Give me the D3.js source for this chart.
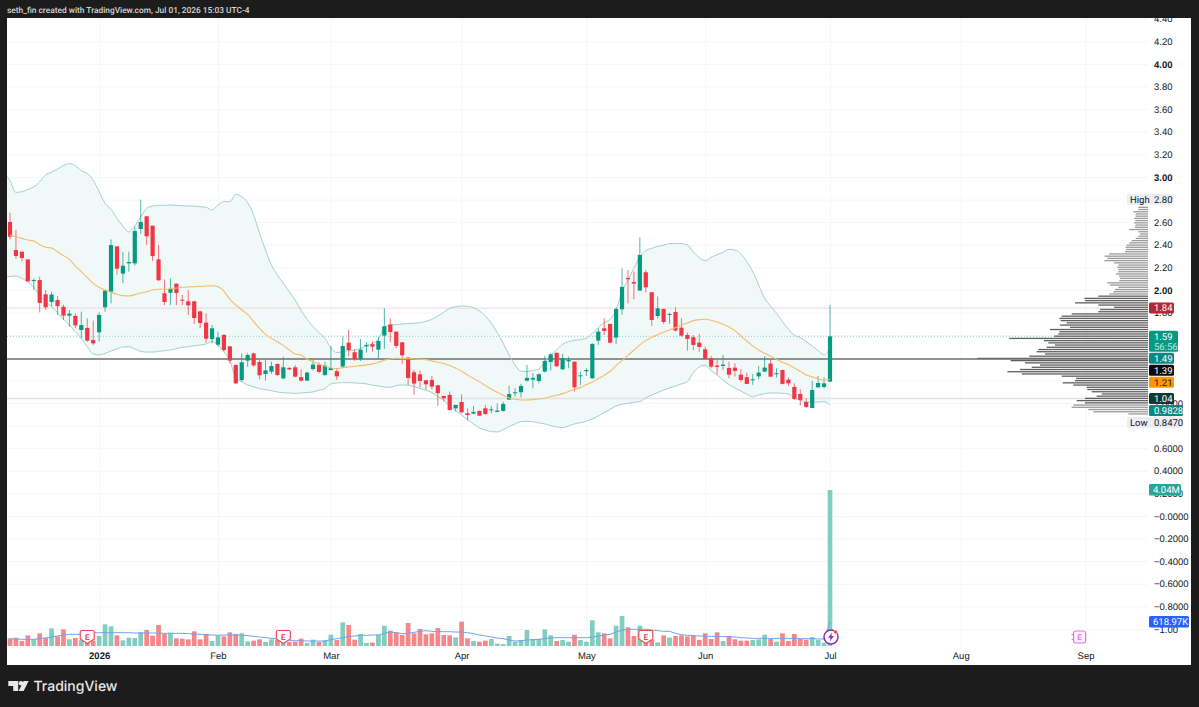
<!DOCTYPE html>
<html>
<head>
<meta charset="utf-8">
<title>Daily candles with Bollinger Bands, volume and volume profile</title>
<script src="https://cdn.jsdelivr.net/npm/d3@7/dist/d3.min.js"></script>
<style>
  html, body { margin: 0; padding: 0; background: #1c1c1c; }
  svg { display: block; font-family: Roboto, "Liberation Sans", sans-serif; }
  text { text-rendering: geometricPrecision; }
</style>
</head>
<body>
<svg id="chart" width="1199" height="707"></svg>
<script>
// Daily OHLC, one entry per session
const opens = [
  2.602,2.354,2.339,2.271,2.080,2.088,1.962,1.894,1.911,1.852,1.773,1.770,1.646,1.664,1.557,1.625,1.847,1.985,2.386,2.145,
  2.236,2.236,2.540,2.652,2.569,2.271,1.971,1.976,2.056,1.914,1.900,1.900,1.811,1.711,1.566,1.516,1.602,1.501,1.336,1.203,
  1.375,1.439,1.363,1.257,1.277,1.345,1.218,1.310,1.316,1.228,1.198,1.301,1.337,1.248,1.292,1.281,1.322,1.534,1.449,1.387,
  1.502,1.520,1.472,1.596,1.694,1.632,1.537,1.402,1.272,1.254,1.201,1.204,1.157,1.062,1.071,0.953,1.009,0.909,0.906,0.930,
  0.953,0.936,0.921,0.930,1.030,1.086,1.095,1.198,1.207,1.195,1.278,1.363,1.443,1.298,1.369,1.366,1.236,1.281,1.219,1.552,
  1.661,1.700,1.579,1.829,2.107,2.071,1.995,2.157,1.980,1.770,1.832,1.779,1.806,1.667,1.602,1.582,1.534,1.475,1.396,1.331,
  1.328,1.310,1.313,1.251,1.228,1.201,1.236,1.278,1.349,1.254,1.292,1.207,1.142,1.080,1.009,0.956,1.139,1.142,1.19];
const highs = [
  2.684,2.531,2.339,2.271,2.103,2.118,2.000,1.985,1.947,1.867,1.823,1.793,1.808,1.749,1.729,1.802,2.000,2.448,2.389,2.339,
  2.339,2.561,2.800,2.655,2.569,2.398,2.094,2.103,2.059,1.956,2.000,1.900,1.814,1.793,1.690,1.631,1.611,1.504,1.342,1.439,
  1.439,1.445,1.380,1.380,1.366,1.351,1.410,1.321,1.336,1.298,1.278,1.381,1.360,1.366,1.505,1.307,1.587,1.647,1.478,1.564,
  1.540,1.543,1.587,1.838,1.750,1.632,1.540,1.405,1.292,1.287,1.204,1.239,1.160,1.065,1.101,0.983,1.077,0.953,0.974,0.933,
  0.983,0.974,0.997,1.012,1.151,1.130,1.169,1.337,1.263,1.263,1.416,1.440,1.449,1.434,1.411,1.366,1.278,1.307,1.528,1.661,
  1.750,1.700,1.847,2.192,2.178,2.163,2.467,2.178,1.980,1.942,1.835,1.800,1.847,1.750,1.623,1.602,1.611,1.499,1.416,1.381,
  1.425,1.366,1.352,1.301,1.269,1.257,1.328,1.416,1.381,1.307,1.295,1.225,1.174,1.121,1.042,1.198,1.239,1.228,1.868];
const lows = [
  2.448,2.274,2.251,2.071,2.000,1.802,1.823,1.852,1.779,1.734,1.675,1.661,1.572,1.543,1.513,1.543,1.808,1.882,2.133,2.059,
  2.162,2.215,2.496,2.398,2.257,2.080,1.867,1.867,1.867,1.867,1.779,1.699,1.661,1.534,1.528,1.498,1.454,1.351,1.168,1.189,
  1.321,1.321,1.209,1.198,1.257,1.239,1.209,1.292,1.227,1.189,1.195,1.287,1.263,1.239,1.287,1.204,1.316,1.416,1.372,1.372,
  1.446,1.455,1.390,1.478,1.537,1.484,1.346,1.160,1.071,1.139,1.121,1.121,0.974,1.012,0.933,0.924,0.909,0.847,0.900,0.885,
  0.894,0.909,0.918,0.924,1.027,1.056,1.051,1.189,1.130,1.174,1.272,1.287,1.322,1.292,1.307,1.101,1.160,1.239,1.213,1.514,
  1.602,1.526,1.520,1.779,1.882,1.918,1.992,1.980,1.682,1.747,1.700,1.700,1.632,1.587,1.464,1.469,1.455,1.387,1.307,1.254,
  1.292,1.219,1.233,1.189,1.166,1.160,1.210,1.275,1.231,1.225,1.163,1.151,1.027,0.977,0.956,0.953,1.136,1.130,1.183];
const closes = [
  2.472,2.301,2.283,2.077,2.088,1.885,1.847,1.959,1.858,1.773,1.791,1.687,1.690,1.552,1.528,1.779,1.994,2.398,2.189,2.215,
  2.248,2.522,2.602,2.475,2.301,2.086,1.894,2.009,1.973,1.906,1.864,1.752,1.708,1.569,1.661,1.581,1.469,1.375,1.174,1.360,
  1.425,1.333,1.245,1.289,1.327,1.248,1.316,1.298,1.233,1.198,1.269,1.340,1.275,1.331,1.310,1.236,1.505,1.469,1.387,1.472,
  1.514,1.499,1.549,1.679,1.629,1.505,1.422,1.222,1.172,1.195,1.166,1.145,1.086,1.042,0.938,0.983,0.918,0.894,0.921,0.888,
  0.903,0.944,0.933,0.992,1.080,1.095,1.151,1.222,1.222,1.254,1.372,1.431,1.325,1.396,1.381,1.139,1.245,1.292,1.523,1.632,
  1.638,1.534,1.832,2.027,2.095,2.057,2.310,2.024,1.735,1.838,1.717,1.788,1.641,1.596,1.567,1.514,1.496,1.393,1.322,1.319,
  1.340,1.251,1.284,1.204,1.169,1.210,1.269,1.313,1.233,1.263,1.169,1.174,1.036,1.027,0.965,1.115,1.177,1.174,1.59];

// Session volume, thousands of shares
const volumes = [
  198,216,129,276,181,328,216,457,250,431,173,207,155,198,138,259,561,509,276,147,
  216,207,362,414,268,544,319,345,198,190,173,380,173,311,129,268,250,354,311,328,
  121,138,173,104,173,155,112,104,112,190,78,164,104,147,293,155,613,544,164,311,
  78,86,293,526,397,354,285,595,328,440,302,328,466,285,276,224,630,198,129,112,
  138,181,60,52,259,112,155,414,181,181,431,276,129,155,112,293,155,112,665,354,
  328,198,526,777,483,259,526,371,155,95,276,216,259,276,250,276,155,328,181,354,
  129,259,173,138,138,155,173,293,181,112,328,129,311,181,164,233,155,86,4040];
const volumeMA = [
  181,181,173,173,173,190,207,233,259,285,302,302,302,319,337,345,345,345,345,345,
  345,337,337,337,337,337,328,328,328,328,319,311,302,293,285,276,285,285,285,285,
  268,250,233,216,198,181,155,138,138,138,129,129,129,129,164,190,216,242,259,276,
  276,285,285,328,362,345,319,328,354,380,397,380,371,371,371,362,362,345,319,285,
  259,233,207,190,155,129,138,155,164,173,190,207,216,216,216,216,216,216,233,259,
  285,302,362,406,431,431,431,431,414,397,380,380,328,293,276,268,259,259,250,242,
  242,242,233,216,207,198,198,198,198,198,198,198,198,190,190,190,181,181,618.97];

// Bollinger Bands, first value belongs to the session before the visible range
const bandStart = -1;
const bbUpper = [
  3.030,2.968,2.864,2.870,2.891,2.912,2.959,3.018,3.044,3.071,3.103,3.118,3.100,3.056,3.032,2.973,2.870,2.767,2.714,2.634,
  2.566,2.513,2.566,2.649,2.723,2.743,2.749,2.749,2.752,2.749,2.746,2.743,2.743,2.737,2.732,2.708,2.752,2.782,2.782,2.847,
  2.826,2.773,2.664,2.501,2.354,2.221,2.133,2.059,1.985,1.911,1.818,1.741,1.676,1.623,1.573,1.490,1.446,1.455,1.464,1.467,
  1.484,1.505,1.529,1.564,1.670,1.691,1.694,1.700,1.703,1.706,1.711,1.723,1.741,1.770,1.803,1.838,1.853,1.859,1.856,1.844,
  1.815,1.770,1.706,1.623,1.529,1.425,1.337,1.281,1.278,1.287,1.301,1.366,1.425,1.469,1.520,1.543,1.555,1.561,1.573,1.617,
  1.670,1.711,1.741,1.823,1.986,2.089,2.192,2.295,2.349,2.369,2.387,2.396,2.411,2.411,2.411,2.399,2.337,2.287,2.260,2.290,
  2.313,2.334,2.360,2.354,2.319,2.251,2.163,2.045,1.927,1.859,1.794,1.720,1.655,1.599,1.579,1.543,1.505,1.464,1.425,1.49];
const bbLower = [
  2.118,2.118,2.124,2.103,2.071,2.024,1.950,1.897,1.852,1.799,1.740,1.690,1.631,1.572,1.498,1.434,1.425,1.439,1.460,1.478,
  1.496,1.498,1.478,1.457,1.451,1.451,1.457,1.463,1.469,1.481,1.493,1.498,1.507,1.513,1.522,1.543,1.513,1.454,1.375,1.218,
  1.189,1.159,1.144,1.127,1.118,1.109,1.097,1.091,1.088,1.085,1.089,1.092,1.098,1.113,1.127,1.169,1.177,1.180,1.180,1.177,
  1.174,1.169,1.157,1.151,1.142,1.139,1.154,1.160,1.157,1.145,1.130,1.113,1.092,1.056,1.024,0.974,0.930,0.894,0.850,0.815,
  0.779,0.761,0.747,0.744,0.764,0.791,0.815,0.835,0.838,0.835,0.823,0.815,0.800,0.788,0.782,0.797,0.815,0.826,0.838,0.859,
  0.885,0.915,0.944,0.974,0.989,0.997,1.006,1.012,1.045,1.071,1.092,1.115,1.133,1.151,1.169,1.189,1.269,1.319,1.334,1.284,
  1.248,1.204,1.163,1.133,1.107,1.077,1.056,1.071,1.083,1.089,1.089,1.086,1.080,1.042,1.024,1.009,1.006,1.009,1.012,0.9828];
const bbBasis = [
  2.500,2.487,2.472,2.457,2.442,2.434,2.401,2.378,2.372,2.339,2.304,2.271,2.212,2.162,2.109,2.059,2.024,2.000,1.979,1.962,
  1.950,1.947,1.959,1.973,1.985,2.000,2.006,2.006,2.012,2.018,2.024,2.027,2.029,2.032,2.035,2.038,2.029,1.991,1.917,1.867,
  1.823,1.785,1.720,1.661,1.608,1.572,1.543,1.510,1.469,1.434,1.425,1.387,1.366,1.343,1.328,1.310,1.304,1.313,1.319,1.325,
  1.331,1.337,1.346,1.360,1.378,1.390,1.396,1.393,1.393,1.390,1.387,1.384,1.372,1.360,1.349,1.331,1.307,1.281,1.248,1.216,
  1.189,1.154,1.124,1.095,1.068,1.045,1.033,1.027,1.027,1.030,1.036,1.042,1.056,1.068,1.083,1.101,1.121,1.136,1.163,1.186,
  1.216,1.245,1.281,1.331,1.375,1.422,1.467,1.514,1.552,1.582,1.605,1.626,1.646,1.667,1.691,1.708,1.729,1.738,1.741,1.732,
  1.717,1.697,1.673,1.641,1.593,1.549,1.505,1.469,1.440,1.413,1.387,1.360,1.340,1.310,1.281,1.248,1.231,1.213,1.201,1.21];

// Volume profile rows, top to bottom, in arbitrary share units
const profileTop = 2.732;
const profileBottom = 0.903;
const profileVolumes = [
  29,29,44,37,37,41,38,42,38,39,56,29,24,29,37,49,56,64,67,66,69,116,130,122,131,102,89,92,89,89,96,87,84,86,
  122,114,89,99,104,116,149,191,189,219,149,102,144,149,229,259,266,262,244,264,234,294,266,269,282,416,312,299,279,304,
  329,334,309,356,512,412,369,324,349,384,422,379,259,216,219,256,224,184,182,169,139,154,189,214,189,224,229,179,164,59];

// Price axis; levels whose label sits fully under a price tag carry no text of their own
const priceTicks = [4.4,4.2,4,3.8,3.6,3.4,3.2,3,2.8,2.6,2.4,2.2,2,1.8,1.6,1.4,1.2,1,0.8,0.6,0.4,0.2,0,-0.2,-0.4,-0.6,-0.8,-1];
const priceTickLabels = ["4.40","4.20","4.00","3.80","3.60","3.40","3.20","3.00","","2.60","2.40","2.20","2.00","1.80","","","","1.0000","","0.6000","0.4000","0.2000","−0.0000","−0.2000","−0.4000","−0.6000","−0.8000","−1.00"];
const boldPriceTicks = [4, 3, 2];

// Session index of each month start on the time axis
const monthIndexes = [15, 35, 54, 76, 97, 117, 138, 160, 181];
const monthLabels = ["2026", "Feb", "Mar", "Apr", "May", "Jun", "Jul", "Aug", "Sep"];

// Earnings sessions and the next scheduled report
const earningsIndexes = [13, 46, 107];
const nextEarningsIndex = 180;
const splitIndex = 138;

// Horizontal price levels
const resistanceLevel = 1.84;
const lastPrice = 1.59;
const pivotLevel = 1.39;
const supportLevel = 1.04;
const lowPrice = 0.847;
const highPrice = 2.80;

const countdown = "56:56";
const creditLine = "seth_fin created with TradingView.com, Jul 01, 2026 15:03 UTC-4";

const GREEN = "#089981", RED = "#f23645";

const svg = d3.select("#chart");
const pane = { left: 7, right: 1191, top: 18, bottom: 665, plotRight: 1148 };

const x = d3.scaleLinear().domain([0, 138]).range([10, 830]);
const y = d3.scaleLinear().domain([0, 4]).range([516, 64]);
const yVol = d3.scaleLinear().domain([0, 4040]).range([646, 490]);
const profileWidth = d3.scaleLinear().domain([0, 534]).range([0, 178]);

svg.append("text").attr("x", 7).attr("y", 13)
  .attr("fill", "#d6d6d6").attr("font-size", 8.35).attr("font-weight", 500).text(creditLine);

svg.append("rect").attr("x", pane.left).attr("y", pane.top)
  .attr("width", pane.right - pane.left).attr("height", pane.bottom - pane.top).attr("fill", "#fff");

const defs = svg.append("defs");
defs.append("clipPath").attr("id", "plot-clip").append("rect")
  .attr("x", pane.left).attr("y", pane.top)
  .attr("width", pane.plotRight - pane.left).attr("height", pane.bottom - pane.top);

// Vertical month grid and time labels
const xAxis = d3.axisBottom(x).tickValues(monthIndexes)
  .tickFormat((d, i) => monthLabels[i])
  .tickSize(-(pane.bottom - pane.top - 16)).tickPadding(3);
const gx = svg.append("g").attr("transform", `translate(0,${pane.bottom - 16})`).call(xAxis);
gx.select(".domain").remove();
gx.selectAll("line").attr("stroke", "#f5f6f9");
gx.selectAll("text").attr("fill", "#131722").attr("font-size", 9.5)
  .attr("font-weight", (d, i) => i === 0 ? 600 : 400);

// Horizontal price grid and price labels
const yAxis = d3.axisRight(y).tickValues(priceTicks)
  .tickFormat((d, i) => priceTickLabels[i])
  .tickSize(-(pane.plotRight - pane.left)).tickPadding(6);
const gy = svg.append("g").attr("transform", `translate(${pane.plotRight},0)`).call(yAxis);
gy.select(".domain").remove();
gy.selectAll("line").attr("stroke", "#f5f6f9");
gy.selectAll("text").attr("fill", "#131722").attr("font-size", 9.5)
  .attr("font-weight", d => boldPriceTicks.includes(d) ? 700 : 400);

const plot = svg.append("g").attr("clip-path", "url(#plot-clip)");

// Bollinger Bands
const bandRows = bbUpper.map((u, i) => ({ i: i + bandStart, u, l: bbLower[i], m: bbBasis[i] }));
plot.append("path").datum(bandRows)
  .attr("fill", "#eef8f6").attr("fill-opacity", 0.9)
  .attr("d", d3.area().curve(d3.curveMonotoneX).x(d => x(d.i)).y0(d => y(d.l)).y1(d => y(d.u)));

// Price levels behind the candles
plot.append("line").attr("x1", pane.left).attr("x2", pane.plotRight)
  .attr("y1", y(resistanceLevel)).attr("y2", y(resistanceLevel))
  .attr("stroke", "#f5d4d6").attr("stroke-width", 1);
plot.append("line").attr("x1", pane.left).attr("x2", pane.plotRight)
  .attr("y1", y(lastPrice)).attr("y2", y(lastPrice))
  .attr("stroke", "#8ccfc3").attr("stroke-width", 1).attr("stroke-dasharray", "1 2");
plot.append("line").attr("x1", pane.left).attr("x2", pane.plotRight)
  .attr("y1", y(supportLevel)).attr("y2", y(supportLevel))
  .attr("stroke", "#e2e2e2").attr("stroke-width", 1.6);

// Volume bars
const barWidth = 4.7;
plot.selectAll("rect.vol").data(volumes).join("rect").attr("class", "vol")
  .attr("x", (d, i) => x(i) - barWidth / 2).attr("width", barWidth)
  .attr("y", d => yVol(d)).attr("height", d => yVol(0) - yVol(d))
  .attr("fill", (d, i) => closes[i] >= opens[i] ? "#82ccc0" : "#f5878a");

plot.append("path").datum(volumeMA)
  .attr("fill", "none").attr("stroke", "#6fa3ea").attr("stroke-width", 1)
  .attr("d", d3.line().x((d, i) => x(i)).y(d => yVol(d)));

// Volume profile, anchored on the right edge of the plot
const profileStep = (profileTop - profileBottom) / (profileVolumes.length - 1);
plot.selectAll("rect.profile").data(profileVolumes).join("rect").attr("class", "profile")
  .attr("x", d => pane.plotRight - profileWidth(d)).attr("width", d => profileWidth(d))
  .attr("y", (d, i) => y(profileTop - i * profileStep) - 0.65).attr("height", 1.3)
  .attr("fill", (d, i) => {
    const p = profileTop - i * profileStep;
    return p < 1.95 && p > 1.0 ? "#5f5f5f" : "#9a9a9a";
  });

// Horizontal pivot level above the profile
plot.append("line").attr("x1", pane.left).attr("x2", pane.plotRight)
  .attr("y1", y(pivotLevel)).attr("y2", y(pivotLevel))
  .attr("stroke", "#6f6f6f").attr("stroke-width", 1.5);

// Band outlines and basis
const curveLine = key => d3.line().curve(d3.curveMonotoneX).x(d => x(d.i)).y(d => y(d[key]));
plot.append("path").datum(bandRows).attr("fill", "none").attr("stroke", "#a3d0cb").attr("stroke-width", 1).attr("d", curveLine("u"));
plot.append("path").datum(bandRows).attr("fill", "none").attr("stroke", "#a3d0cb").attr("stroke-width", 1).attr("d", curveLine("l"));

// Candles
const bodyWidth = 4.2;
const candles = plot.selectAll("g.candle").data(opens).join("g").attr("class", "candle")
  .attr("fill", (d, i) => closes[i] >= d ? GREEN : RED)
  .attr("stroke", (d, i) => closes[i] >= d ? GREEN : RED);
candles.append("line").attr("x1", (d, i) => x(i)).attr("x2", (d, i) => x(i))
  .attr("y1", (d, i) => y(highs[i])).attr("y2", (d, i) => y(lows[i]))
  .attr("stroke-opacity", 0.7).attr("stroke-width", 1);
candles.append("rect").attr("stroke", "none")
  .attr("x", (d, i) => x(i) - bodyWidth / 2).attr("width", bodyWidth)
  .attr("y", (d, i) => y(Math.max(d, closes[i])))
  .attr("height", (d, i) => Math.max(1, Math.abs(y(d) - y(closes[i]))));

plot.append("path").datum(bandRows.filter(d => d.i >= 0)).attr("fill", "none")
  .attr("stroke", "#f5bb6c").attr("stroke-width", 1.1).attr("d", curveLine("m"));

// Event markers on the time axis
const markerY = 637;
const earnings = svg.selectAll("g.earn").data(earningsIndexes).join("g").attr("class", "earn")
  .attr("transform", d => `translate(${x(d)},${markerY})`);
earnings.append("path")
  .attr("d", "M-5.5,-6.5H5.5A1.5,1.5 0 0 1 7,-5V2L0,6.5L-7,2V-5A1.5,1.5 0 0 1 -5.5,-6.5Z")
  .attr("fill", "#fff").attr("stroke", "#f0485a").attr("stroke-width", 1.2);
earnings.append("text").attr("text-anchor", "middle").attr("y", 2.5)
  .attr("font-size", 8).attr("font-weight", 700).attr("fill", "#f0485a").text("E");

const nextEarn = svg.append("g").attr("transform", `translate(${x(nextEarningsIndex)},${markerY})`);
nextEarn.append("rect").attr("x", -6).attr("y", -6).attr("width", 12).attr("height", 12).attr("rx", 2)
  .attr("fill", "#fdf2fe").attr("stroke", "#e96ff0").attr("stroke-width", 1.2);
nextEarn.append("path").attr("d", "M-8,-2.5H-6M-8,2.5H-6").attr("stroke", "#e96ff0").attr("stroke-width", 1.2);
nextEarn.append("text").attr("text-anchor", "middle").attr("y", 2.8)
  .attr("font-size", 8).attr("font-weight", 600).attr("fill", "#e96ff0").text("E");

const split = svg.append("g").attr("transform", `translate(${x(splitIndex) + 1},${markerY})`);
split.append("circle").attr("r", 7).attr("fill", "#fff").attr("stroke", "#8b2cb5").attr("stroke-width", 1.5);
split.append("path").attr("d", "M1,-4.5L-3,0.8H-0.4L-1.2,4.5L3,-0.9H0.4Z").attr("fill", "#8b2cb5");
split.append("circle").attr("cx", 4.6).attr("cy", -5).attr("r", 1.9).attr("fill", "#f23645").attr("stroke", "#fff").attr("stroke-width", 0.6);

// Price labels, stacked top-down so neighbouring boxes never overlap
const axisX = pane.plotRight + 1;
const priceLabels = [
  { value: highPrice, lines: ["2.80"], bg: "#e9eef7", fg: "#131722", w: 25, prefix: "High" },
  { value: resistanceLevel, lines: ["1.84"], bg: "#b22833", fg: "#fff", w: 25 },
  { value: lastPrice, lines: ["1.59", countdown], bg: "#089981", fg: "#fff", w: 29 },
  { value: 1.49, lines: ["1.49"], bg: "#0b8a84", fg: "#fff", w: 25 },
  { value: pivotLevel, lines: ["1.39"], bg: "#0c0c0c", fg: "#fff", w: 25 },
  { value: 1.21, lines: ["1.21"], bg: "#ff9800", fg: "#131722", w: 25 },
  { value: supportLevel, lines: ["1.04"], bg: "#0e3b30", fg: "#fff", w: 25 },
  { value: 0.9828, lines: ["0.9828"], bg: "#0b8a84", fg: "#fff", w: 34 },
  { value: lowPrice, lines: ["0.8470"], bg: "#e9eef7", fg: "#131722", w: 34, prefix: "Low" }
];
let nextTop = -Infinity;
const labelG = svg.append("g").attr("font-size", 9.5);
priceLabels.forEach(l => {
  const h = 11 + (l.lines.length - 1) * 10;
  const top = Math.max(y(l.value) - 5.5, nextTop);
  nextTop = top + h + 1;
  const extra = l.prefix ? 22 : 0;
  labelG.append("rect").attr("x", axisX - extra).attr("y", top)
    .attr("width", l.w + extra).attr("height", h).attr("rx", 1.5).attr("fill", l.bg);
  if (l.prefix) {
    labelG.append("text").attr("x", axisX - extra + 3).attr("y", top + 8.8).attr("fill", l.fg).text(l.prefix);
  }
  l.lines.forEach((t, i) => {
    labelG.append("text").attr("x", axisX + 5).attr("y", top + 8.8 + i * 10.5)
      .attr("fill", i ? "#bfe8e0" : l.fg).text(t);
  });
});

// Volume pane labels
const volumeLabels = [
  { value: volumes[volumes.length - 1], text: "4.04M", bg: "#26a69a", w: 32 },
  { value: volumeMA[volumeMA.length - 1], text: "618.97K", bg: "#2962ff", w: 40 }
];
volumeLabels.forEach(l => {
  labelG.append("rect").attr("x", axisX).attr("y", yVol(l.value) - 6)
    .attr("width", l.w).attr("height", 11.5).attr("rx", 1.5).attr("fill", l.bg);
  labelG.append("text").attr("x", axisX + 4).attr("y", yVol(l.value) + 3.4).attr("fill", "#fff").text(l.text);
});

// Brand mark in the footer
const brand = svg.append("g").attr("fill", "#e8e8e8");
brand.append("path").attr("d", "M8.3,681H18.2V691H13.2V686H8.3Z");
brand.append("circle").attr("cx", 21).attr("cy", 683.3).attr("r", 2.3);
brand.append("path").attr("d", "M23.6,681H28.6L23.6,691H18.6Z");
brand.append("text").attr("x", 33.5).attr("y", 691)
  .attr("font-family", "Inter, Roboto, sans-serif").attr("font-size", 14).attr("font-weight", 500)
  .attr("fill", "#e8e8e8").text("TradingView");
</script>
</body>
</html>
